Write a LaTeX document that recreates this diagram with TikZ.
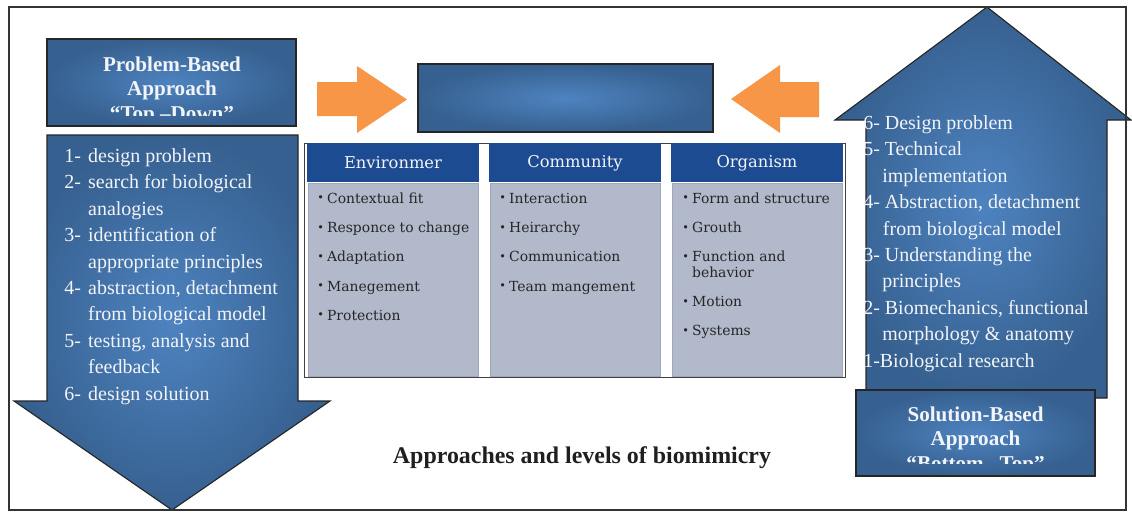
\documentclass[tikz,border=0pt]{standalone}
\usepackage{fontspec}
\setmainfont{Liberation Serif}
\newfontfamily\levelfont{DejaVu Serif}

\definecolor{bluedark}{HTML}{36608F}
\definecolor{bluelight}{HTML}{4E83C0}
\definecolor{headblue}{HTML}{1D4B92}
\definecolor{cellgray}{HTML}{B2B9CB}
\definecolor{cellline}{HTML}{9EA7BC}
\definecolor{arroworange}{HTML}{F79646}
\definecolor{paletext}{HTML}{F2F4F8}

% small bullet for the level lists
\newcommand{\lvitem}{\makebox[7pt][l]{\raisebox{1pt}{\footnotesize\textbullet}}}

\tikzset{
    bigarrow/.style = {draw=black!85, line width=0.8pt, inner color=bluelight, outer color=bluedark},
    headbox/.style = {draw=black!85, line width=1.4pt, inner color=bluelight, outer color=bluedark},
    orangearrow/.style = {fill=arroworange},
    steptext/.style = {inner sep=0pt, text=paletext, font=\fontsize{14.2}{18.8}\selectfont},
    headtitle/.style = {inner sep=0pt, text=paletext, font=\bfseries\fontsize{15}{17.4}\selectfont},
    leveltitle/.style = {inner sep=0pt, text=paletext, font=\levelfont\fontsize{11.6}{13}\selectfont},
    leveltext/.style = {inner sep=0pt, text=black!85, font=\levelfont\fontsize{9.9}{11}\selectfont}
}

\begin{document}
\begin{tikzpicture}[x=0.025cm, y=-0.025cm]
    \useasboundingbox (0,0) rectangle (1132,514);

    % top-down arrow on the left
    \path[bigarrow] (47,135) -- (298,135) -- (298,401) -- (330,401) -- (172,510)
        -- (14,401) -- (47,401) -- cycle;
    \node[steptext, anchor=north west] (topdownsteps) at (64,143.5) {%
        \begin{tabular}{@{}p{17pt}@{}l@{}}
        1- & design problem\\
        2- & search for biological\\
           & analogies\\
        3- & identification of\\
           & appropriate principles\\
        4- & abstraction, detachment\\
           & from biological model\\
        5- & testing, analysis and\\
           & feedback\\
        6- & design solution
        \end{tabular}};

    % bottom-up arrow on the right
    \path[bigarrow] (866,398) -- (866,120) -- (835,120) -- (987,7) -- (1131,120)
        -- (1107,120) -- (1107,398) -- cycle;
    \node[steptext, anchor=north west] (bottomupsteps) at (863,110.5) {%
        \begin{tabular}{@{}l@{}}
        6- Design problem\\
        5- Technical\\
        \hspace*{13.5pt}implementation\\
        4- Abstraction, detachment\\
        \hspace*{14pt}from biological model\\
        3- Understanding the\\
        \hspace*{13.5pt}principles\\
        2- Biomechanics, functional\\
        \hspace*{13.5pt}morphology \& anatomy\\
        1-Biological research
        \end{tabular}};

    % approach boxes
    \path[headbox] (47,39) rectangle (296,126);
    \begin{scope}
        \clip (47,39) rectangle (296,115);
        \node[headtitle, anchor=north] (topdown) at (172,54) {%
            \begin{tabular}{@{}c@{}}Problem-Based\\Approach\\“Top –Down”\end{tabular}};
    \end{scope}
    \path[headbox] (856,390) rectangle (1095,476);
    \begin{scope}
        \clip (856,390) rectangle (1095,463);
        \node[headtitle, anchor=north] (bottomup) at (975.5,404) {%
            \begin{tabular}{@{}c@{}}Solution-Based\\Approach\\“Bottom –Top”\end{tabular}};
    \end{scope}

    % orange arrows and the empty box between them
    \path[orangearrow] (317,82) -- (357,82) -- (357,66) -- (407,99.5) -- (357,133)
        -- (357,116) -- (317,116) -- cycle;
    \path[orangearrow] (819,82) -- (780,82) -- (780,65) -- (731,99) -- (780,133)
        -- (780,117) -- (819,117) -- cycle;
    \path[headbox, line width=1pt] (418,64) rectangle (713,132);

    % levels table
    \draw[black!75, line width=0.6pt] (304,143) rectangle (845,377);
    \foreach \x/\name in {307/Environmer, 489/Community, 671/Organism} {
        \fill[headblue] (\x,143) rectangle ++(172,39);
        \path[fill=cellgray, draw=cellline, line width=0.6pt] (\x+1,183) rectangle ++(170,193);
        \node[leveltitle] at (\x+86,163) {\name};
    }
    \node[leveltext, anchor=north west] (environment) at (317,192.2) {%
        \begin{tabular}{@{}l@{}}
        \lvitem Contextual fit\\[9.8pt]
        \lvitem Responce to change\\[9.8pt]
        \lvitem Adaptation\\[9.8pt]
        \lvitem Manegement\\[9.8pt]
        \lvitem Protection
        \end{tabular}};
    \node[leveltext, anchor=north west] (community) at (499,192.2) {%
        \begin{tabular}{@{}l@{}}
        \lvitem Interaction\\[9.8pt]
        \lvitem Heirarchy\\[9.8pt]
        \lvitem Communication\\[9.8pt]
        \lvitem Team mangement
        \end{tabular}};
    \node[leveltext, anchor=north west] (organism) at (682,192.2) {%
        \begin{tabular}{@{}l@{}}
        \lvitem Form and structure\\[9.8pt]
        \lvitem Grouth\\[9.8pt]
        \lvitem Function and\\
        \makebox[7pt]{}behavior\\[9.8pt]
        \lvitem Motion\\[9.8pt]
        \lvitem Systems
        \end{tabular}};

    \node[anchor=base, inner sep=0pt, text=black!88, font=\bfseries\fontsize{17}{20}\selectfont]
        (caption) at (582,463) {Approaches and levels of biomimicry};

    % outer frame
    \draw[black!80, line width=1.3pt] (9,7) rectangle (1126,510);
\end{tikzpicture}
\end{document}
